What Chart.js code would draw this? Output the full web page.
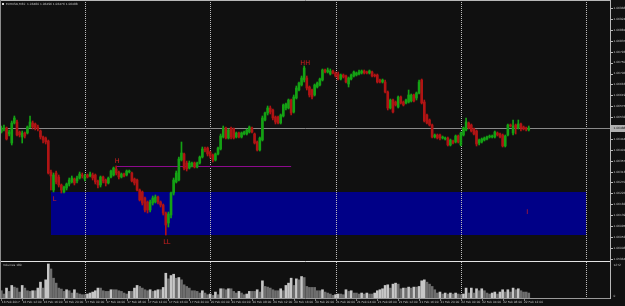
<!DOCTYPE html>
<html>
<head>
<meta charset="utf-8">
<script src="https://cdn.jsdelivr.net/npm/chart.js@4.4.1/dist/chart.umd.min.js"></script>
<style>
html, body { margin: 0; padding: 0; background: #101010; }
#wrap { position: relative; width: 625px; height: 306px; overflow: hidden; }
#priceBox { position: absolute; left: 0; top: 0; width: 625px; height: 260px; }
#volBox { position: absolute; left: 0; top: 260px; width: 625px; height: 46px; }
</style>
</head>
<body>
<div id="wrap">
  <div id="priceBox"><canvas id="price"></canvas></div>
  <div id="volBox"><canvas id="vol"></canvas></div>
</div>
<script>
// EURUSD M30 bars
const opens = [
 1.06472,1.06484,1.06488,1.06464,1.06428,1.06508,1.06512,1.06472,1.06452,1.06468,
 1.06468,1.06492,1.06508,1.06504,1.06492,1.06476,1.06452,1.06448,1.06436,1.06312,
 1.06240,1.06308,1.06292,1.06260,1.06232,1.06248,1.06264,1.06272,1.06284,1.06276,
 1.06288,1.06300,1.06284,1.06300,1.06296,1.06300,1.06300,1.06276,1.06260,1.06292,
 1.06280,1.06268,1.06292,1.06300,1.06324,1.06312,1.06292,1.06304,1.06300,1.06312,
 1.06308,1.06284,1.06280,1.06240,1.06232,1.06208,1.06192,1.06160,1.06188,1.06192,
 1.06212,1.06192,1.06180,1.06148,1.06108,1.06140,1.06228,1.06272,1.06280,1.06360,
 1.06384,1.06348,1.06328,1.06336,1.06348,1.06332,1.06348,1.06372,1.06404,1.06408,
 1.06392,1.06380,1.06360,1.06384,1.06404,1.06452,1.06488,1.06448,1.06488,1.06484,
 1.06452,1.06468,1.06452,1.06464,1.06464,1.06472,1.06488,1.06464,1.06432,1.06400,
 1.06440,1.06520,1.06548,1.06568,1.06560,1.06532,1.06532,1.06508,1.06536,1.06568,
 1.06568,1.06600,1.06552,1.06608,1.06640,1.06660,1.06680,1.06688,1.06652,1.06640,
 1.06620,1.06652,1.06660,1.06680,1.06720,1.06712,1.06704,1.06716,1.06708,1.06704,
 1.06684,1.06700,1.06696,1.06664,1.06684,1.06696,1.06700,1.06704,1.06708,1.06716,
 1.06712,1.06708,1.06712,1.06700,1.06700,1.06680,1.06672,1.06672,1.06632,1.06568,
 1.06600,1.06592,1.06572,1.06612,1.06592,1.06588,1.06592,1.06596,1.06620,1.06608,
 1.06628,1.06680,1.06592,1.06540,1.06520,1.06500,1.06452,1.06460,1.06460,1.06448,
 1.06444,1.06448,1.06420,1.06436,1.06432,1.06456,1.06420,1.06460,1.06480,1.06508,
 1.06500,1.06484,1.06476,1.06428,1.06432,1.06440,1.06444,1.06452,1.06452,1.06452,
 1.06468,1.06464,1.06460,1.06416,1.06460,1.06500,1.06468,1.06500,1.06488,1.06504,
 1.06492,1.06488,1.06480
];
const highs = [
 1.06496,1.06500,1.06492,1.06480,1.06516,1.06536,1.06520,1.06476,1.06476,1.06472,
 1.06496,1.06536,1.06516,1.06508,1.06500,1.06480,1.06456,1.06452,1.06440,1.06320,
 1.06308,1.06316,1.06300,1.06264,1.06256,1.06268,1.06288,1.06296,1.06288,1.06296,
 1.06312,1.06308,1.06304,1.06304,1.06312,1.06308,1.06304,1.06280,1.06296,1.06296,
 1.06284,1.06292,1.06320,1.06332,1.06336,1.06316,1.06308,1.06308,1.06320,1.06320,
 1.06312,1.06288,1.06284,1.06244,1.06236,1.06212,1.06196,1.06200,1.06216,1.06220,
 1.06216,1.06196,1.06184,1.06152,1.06152,1.06232,1.06288,1.06316,1.06372,1.06432,
 1.06388,1.06356,1.06356,1.06352,1.06352,1.06352,1.06376,1.06412,1.06412,1.06412,
 1.06396,1.06384,1.06388,1.06412,1.06464,1.06496,1.06492,1.06484,1.06492,1.06488,
 1.06472,1.06472,1.06472,1.06476,1.06484,1.06496,1.06492,1.06468,1.06436,1.06452,
 1.06536,1.06552,1.06576,1.06576,1.06564,1.06536,1.06536,1.06544,1.06584,1.06588,
 1.06604,1.06604,1.06620,1.06656,1.06672,1.06696,1.06736,1.06696,1.06656,1.06644,
 1.06664,1.06672,1.06688,1.06724,1.06724,1.06728,1.06724,1.06720,1.06712,1.06712,
 1.06704,1.06704,1.06700,1.06692,1.06704,1.06716,1.06712,1.06720,1.06720,1.06720,
 1.06716,1.06720,1.06716,1.06704,1.06704,1.06684,1.06684,1.06680,1.06636,1.06604,
 1.06604,1.06596,1.06616,1.06616,1.06596,1.06604,1.06640,1.06624,1.06624,1.06632,
 1.06680,1.06684,1.06600,1.06544,1.06524,1.06504,1.06464,1.06464,1.06464,1.06456,
 1.06452,1.06452,1.06444,1.06440,1.06460,1.06460,1.06472,1.06492,1.06528,1.06512,
 1.06504,1.06488,1.06480,1.06444,1.06448,1.06452,1.06456,1.06460,1.06460,1.06476,
 1.06472,1.06468,1.06464,1.06460,1.06504,1.06504,1.06520,1.06504,1.06520,1.06508,
 1.06496,1.06492,1.06496
];
const lows = [
 1.06468,1.06476,1.06440,1.06456,1.06420,1.06504,1.06456,1.06452,1.06428,1.06448,
 1.06464,1.06488,1.06484,1.06480,1.06476,1.06444,1.06428,1.06424,1.06304,1.06240,
 1.06232,1.06264,1.06252,1.06228,1.06228,1.06240,1.06256,1.06268,1.06260,1.06268,
 1.06284,1.06288,1.06276,1.06288,1.06292,1.06280,1.06264,1.06248,1.06252,1.06268,
 1.06256,1.06264,1.06288,1.06296,1.06300,1.06284,1.06288,1.06292,1.06296,1.06308,
 1.06272,1.06260,1.06236,1.06196,1.06180,1.06152,1.06148,1.06152,1.06180,1.06188,
 1.06184,1.06172,1.06140,1.06060,1.06092,1.06128,1.06220,1.06268,1.06276,1.06356,
 1.06320,1.06316,1.06324,1.06332,1.06328,1.06328,1.06344,1.06368,1.06392,1.06376,
 1.06368,1.06352,1.06356,1.06380,1.06400,1.06448,1.06444,1.06444,1.06444,1.06444,
 1.06448,1.06448,1.06448,1.06460,1.06460,1.06468,1.06468,1.06424,1.06396,1.06396,
 1.06436,1.06516,1.06540,1.06544,1.06520,1.06504,1.06504,1.06504,1.06532,1.06560,
 1.06564,1.06540,1.06548,1.06604,1.06636,1.06656,1.06672,1.06640,1.06612,1.06604,
 1.06616,1.06648,1.06656,1.06676,1.06708,1.06708,1.06700,1.06704,1.06692,1.06680,
 1.06680,1.06688,1.06668,1.06652,1.06680,1.06692,1.06696,1.06700,1.06704,1.06704,
 1.06704,1.06704,1.06692,1.06692,1.06668,1.06668,1.06668,1.06628,1.06560,1.06564,
 1.06548,1.06576,1.06568,1.06584,1.06576,1.06584,1.06588,1.06592,1.06592,1.06600,
 1.06624,1.06584,1.06512,1.06504,1.06496,1.06448,1.06448,1.06444,1.06440,1.06444,
 1.06440,1.06416,1.06416,1.06424,1.06428,1.06428,1.06416,1.06456,1.06476,1.06484,
 1.06472,1.06460,1.06416,1.06420,1.06428,1.06436,1.06440,1.06448,1.06448,1.06448,
 1.06456,1.06448,1.06412,1.06412,1.06456,1.06492,1.06460,1.06464,1.06484,1.06476,
 1.06480,1.06476,1.06476
];
const closes = [
 1.06488,1.06488,1.06444,1.06472,1.06508,1.06528,1.06460,1.06460,1.06468,1.06456,
 1.06492,1.06512,1.06492,1.06488,1.06484,1.06452,1.06440,1.06432,1.06308,1.06296,
 1.06300,1.06272,1.06260,1.06240,1.06252,1.06264,1.06280,1.06288,1.06268,1.06288,
 1.06304,1.06296,1.06296,1.06292,1.06304,1.06288,1.06272,1.06260,1.06292,1.06276,
 1.06268,1.06288,1.06316,1.06328,1.06308,1.06292,1.06304,1.06296,1.06316,1.06316,
 1.06276,1.06268,1.06240,1.06200,1.06188,1.06160,1.06160,1.06192,1.06208,1.06212,
 1.06192,1.06180,1.06148,1.06100,1.06144,1.06228,1.06280,1.06308,1.06364,1.06388,
 1.06328,1.06324,1.06348,1.06348,1.06332,1.06348,1.06372,1.06404,1.06400,1.06384,
 1.06376,1.06360,1.06384,1.06408,1.06456,1.06488,1.06448,1.06480,1.06452,1.06448,
 1.06468,1.06452,1.06468,1.06472,1.06480,1.06492,1.06472,1.06428,1.06400,1.06448,
 1.06528,1.06548,1.06568,1.06552,1.06528,1.06512,1.06508,1.06540,1.06580,1.06584,
 1.06600,1.06548,1.06612,1.06648,1.06668,1.06688,1.06728,1.06648,1.06620,1.06612,
 1.06660,1.06668,1.06684,1.06720,1.06712,1.06720,1.06716,1.06708,1.06696,1.06684,
 1.06700,1.06692,1.06672,1.06688,1.06700,1.06712,1.06708,1.06712,1.06716,1.06708,
 1.06708,1.06716,1.06696,1.06696,1.06672,1.06672,1.06680,1.06632,1.06568,1.06600,
 1.06552,1.06580,1.06612,1.06588,1.06580,1.06600,1.06620,1.06620,1.06596,1.06628,
 1.06672,1.06588,1.06516,1.06508,1.06500,1.06452,1.06460,1.06448,1.06448,1.06452,
 1.06448,1.06420,1.06440,1.06428,1.06456,1.06432,1.06468,1.06488,1.06512,1.06488,
 1.06476,1.06464,1.06424,1.06440,1.06444,1.06448,1.06452,1.06456,1.06456,1.06472,
 1.06460,1.06452,1.06416,1.06456,1.06500,1.06496,1.06496,1.06488,1.06504,1.06488,
 1.06484,1.06484,1.06488
];
const volumes = [
 264,144,360,240,456,396,360,216,456,360,
 264,240,264,264,360,576,360,660,1236,1056,
 720,540,360,324,240,300,264,180,300,180,
 144,120,120,144,180,216,264,360,360,264,
 240,240,300,300,300,264,240,180,144,240,
 240,360,456,420,360,300,264,300,240,264,
 300,300,384,900,696,816,864,720,744,660,
 480,420,360,264,264,240,180,264,180,120,
 144,96,216,120,336,336,300,336,336,240,
 180,240,180,120,144,240,240,240,300,216,
 624,420,396,360,300,264,264,336,264,456,
 540,720,456,696,660,780,744,420,384,384,
 384,264,264,300,216,180,144,96,120,144,
 144,120,300,240,264,180,180,144,180,144,
 180,144,144,180,264,300,336,456,480,360,
 504,540,504,336,360,360,396,360,396,396,
 420,624,660,576,504,420,300,180,216,144,
 180,144,180,144,180,144,120,144,360,180,
 360,180,336,264,336,264,180,144,180,216,
 144,216,300,216,300,216,360,300,336,264,
 216,216,180
];

// price axis labels on the right, and the bottom time labels (one every 8 bars)
const priceTicks = [1.06968,1.06924,1.06881,1.06837,1.06793,1.06750,1.06706,1.06663,
  1.06619,1.06575,1.06532,1.06488,1.06444,1.06401,1.06357,1.06313,1.06270,1.06226,
  1.06182,1.06139,1.06095,1.06052,1.06008,1.05964];
const timeLabels = ['16 Feb 2017','16 Feb 12:00','16 Feb 16:00','16 Feb 20:00',
  '17 Feb 00:00','17 Feb 04:00','17 Feb 08:00','17 Feb 12:00','17 Feb 16:00','17 Feb 20:00',
  '20 Feb 00:00','20 Feb 04:00','20 Feb 08:00','20 Feb 12:00','20 Feb 16:00','20 Feb 20:00',
  '21 Feb 00:00','21 Feb 04:00','21 Feb 08:00','21 Feb 12:00','21 Feb 16:00','21 Feb 20:00',
  '22 Feb 00:00','22 Feb 04:00','22 Feb 08:00','22 Feb 12:00'];
const timeLabelBars = [0,8,16,24,32,40,48,56,64,72,80,88,96,104,112,120,128,136,144,152,160,168,176,184,192,200];
const dayStartBars = [32, 80, 128, 176, 224];
const volumeTicks = [1272, 0];

// drawn objects: demand zone, swing high line, swing labels
const zoneBars = [19, 224];
const zonePrices = [1.06232, 1.06060];
const swingLineBars = [44, 111];
const swingLinePrice = 1.06335;
const markerText = ['H', 'L', 'LL', 'HH', 'I'];
const markerBars = [44, 20, 63, 116, 201];
const markerPrices = [1.06354, 1.06204, 1.06030, 1.06746, 1.06152];

const SLOTS = 234;          // bars + empty right shift
const PRICE_MIN = 1.05964, PRICE_MAX = 1.06996;
const BULL = '#14a214', BEAR = '#b01414';
const TEXT = '#c4c4c4';
const TINY = '2.9px "DejaVu Sans"';
const FRAME = '#b8b8b8';

const slots = Array.from({length: SLOTS}, (_, i) => i);
const candleColors = opens.map((o, i) => closes[i] < o ? BEAR : BULL);
const volColors = volumes.map((v, i) => (i > 0 && v > volumes[i - 1]) ? '#c6c6c6' : '#6e6e6e');

function separators(chart, top, bottom) {
    const ctx = chart.ctx, x = chart.scales.x;
    ctx.save();
    ctx.strokeStyle = '#bcbcbc';
    ctx.lineWidth = 1;
    ctx.setLineDash([1, 1]);
    dayStartBars.forEach(b => {
        const px = Math.round(x.getPixelForValue(b)) + 0.5;
        ctx.beginPath();
        ctx.moveTo(px, top);
        ctx.lineTo(px, bottom);
        ctx.stroke();
    });
    ctx.restore();
}

function hline(ctx, x0, x1, y, color) {
    ctx.strokeStyle = color;
    ctx.lineWidth = 1;
    ctx.beginPath();
    ctx.moveTo(x0, y);
    ctx.lineTo(x1, y);
    ctx.stroke();
}
function vline(ctx, x, y0, y1, color) {
    ctx.strokeStyle = color;
    ctx.lineWidth = 1;
    ctx.beginPath();
    ctx.moveTo(x, y0);
    ctx.lineTo(x, y1);
    ctx.stroke();
}

// Background objects and foreground text for the price window
const priceOverlay = {
    id: 'priceOverlay',
    beforeDatasetsDraw(chart) {
        const {ctx, scales: {x, y}} = chart;
        ctx.save();
        // demand zone
        const zx0 = x.getPixelForValue(zoneBars[0]);
        const zx1 = x.getPixelForValue(zoneBars[1]);
        const zy0 = y.getPixelForValue(zonePrices[0]);
        const zy1 = y.getPixelForValue(zonePrices[1]);
        ctx.fillStyle = '#000087';
        ctx.fillRect(Math.round(zx0), Math.round(zy0), Math.round(zx1 - zx0), Math.round(zy1 - zy0));
        ctx.restore();

        separators(chart, 0, chart.height);

        ctx.save();
        // bid line
        const by = Math.round(y.getPixelForValue(closes[closes.length - 1])) + 0.5;
        hline(ctx, 0, 611, by, '#8a8a8a');
        // swing high line
        const my = Math.round(y.getPixelForValue(swingLinePrice)) + 0.5;
        hline(ctx, x.getPixelForValue(swingLineBars[0]), x.getPixelForValue(swingLineBars[1]), my, '#8c0a8c');
        ctx.restore();
    },
    afterDraw(chart) {
        const {ctx, scales: {x, y}} = chart;
        ctx.save();
        // swing labels
        ctx.fillStyle = '#d42020';
        ctx.font = '6.5px "DejaVu Sans"';
        ctx.textAlign = 'center';
        ctx.textBaseline = 'middle';
        markerText.forEach((t, i) => {
            ctx.fillText(t, x.getPixelForValue(markerBars[i]) + 1, y.getPixelForValue(markerPrices[i]));
        });

        // frame
        hline(ctx, 0, 611, 0.5, FRAME);
        vline(ctx, 0.5, 0, chart.height, '#8c8c8c');
        vline(ctx, 610.5, 0, chart.height, FRAME);

        // right price scale
        ctx.font = TINY;
        ctx.textAlign = 'left';
        ctx.fillStyle = TEXT;
        const bid = closes[closes.length - 1];
        priceTicks.forEach(p => {
            if (Math.abs(p - bid) < 0.00005) return;
            const py = y.getPixelForValue(p);
            hline(ctx, 611, 613, Math.round(py) + 0.5, FRAME);
            ctx.fillText(p.toFixed(5), 613.5, py);
        });
        const by = y.getPixelForValue(bid);
        ctx.fillStyle = '#b0b0b0';
        ctx.fillRect(611, Math.round(by) - 3, 14, 7);
        ctx.fillStyle = '#101010';
        ctx.fillText(bid.toFixed(5), 613.5, by + 0.5);

        // title
        ctx.fillStyle = '#d8d8d8';
        ctx.fillRect(2, 3, 2, 2);
        ctx.fillStyle = TEXT;
        const last = opens.length - 1;
        ctx.fillText('EURUSD,M30  ' + opens[last].toFixed(5) + ' ' + highs[last].toFixed(5) + ' ' +
            lows[last].toFixed(5) + ' ' + closes[last].toFixed(5), 6, 4.5);
        ctx.restore();
    }
};

// Frame, separators and texts for the volume window
const volOverlay = {
    id: 'volOverlay',
    beforeDatasetsDraw(chart) {
        separators(chart, 2, chart.chartArea.bottom);
    },
    afterDraw(chart) {
        const {ctx, chartArea: a, scales: {x, y}} = chart;
        ctx.save();
        hline(ctx, 0, 611, 1.5, '#e4e4e4');
        hline(ctx, 0, 611, Math.round(a.bottom) + 0.5, '#9a9a9a');
        vline(ctx, 0.5, 0, a.bottom, '#8c8c8c');
        vline(ctx, 610.5, 0, a.bottom + 1, FRAME);

        ctx.font = TINY;
        ctx.fillStyle = TEXT;
        ctx.textBaseline = 'middle';
        ctx.textAlign = 'left';
        ctx.fillText('Volumes ' + volumes[volumes.length - 1], 3, 5.5);

        volumeTicks.forEach(v => {
            const vy = Math.min(Math.max(y.getPixelForValue(v), a.top + 2), a.bottom - 2);
            ctx.fillText(String(v), 613.5, vy);
        });

        timeLabelBars.forEach((b, i) => {
            const px = x.getPixelForValue(b);
            vline(ctx, Math.round(px) + 0.5, a.bottom + 1, a.bottom + 3, '#7a7a7a');
            ctx.fillText(timeLabels[i], px + 0.5, a.bottom + 4);
        });
        ctx.restore();
    }
};

const priceChart = new Chart(document.getElementById('price'), {
    type: 'bar',
    data: {
        labels: slots,
        datasets: [
            {
                // wicks
                data: highs.map((h, i) => [lows[i], h]),
                backgroundColor: candleColors,
                barThickness: 1,
                grouped: false,
                order: 2
            },
            {
                // bodies
                data: opens.map((o, i) => [o, closes[i]]),
                backgroundColor: candleColors,
                barThickness: 2,
                minBarLength: 1,
                grouped: false,
                order: 1
            }
        ]
    },
    options: {
        responsive: true,
        maintainAspectRatio: false,
        animation: false,
        devicePixelRatio: 1,
        layout: { padding: { top: 1, bottom: 1, left: 0, right: 14 } },
        plugins: { legend: { display: false }, tooltip: { enabled: false } },
        scales: {
            x: { type: 'category', display: false, offset: true },
            y: { display: false, min: PRICE_MIN, max: PRICE_MAX }
        }
    },
    plugins: [priceOverlay]
});

const volChart = new Chart(document.getElementById('vol'), {
    type: 'bar',
    data: {
        labels: slots,
        datasets: [{
            data: volumes,
            backgroundColor: volColors,
            barThickness: 2
        }]
    },
    options: {
        responsive: true,
        maintainAspectRatio: false,
        animation: false,
        devicePixelRatio: 1,
        layout: { padding: { top: 3, bottom: 8, left: 0, right: 14 } },
        plugins: { legend: { display: false }, tooltip: { enabled: false } },
        scales: {
            x: { type: 'category', display: false, offset: true },
            y: { display: false, min: 0, max: volumeTicks[0] }
        }
    },
    plugins: [volOverlay]
});
</script>
</body>
</html>
